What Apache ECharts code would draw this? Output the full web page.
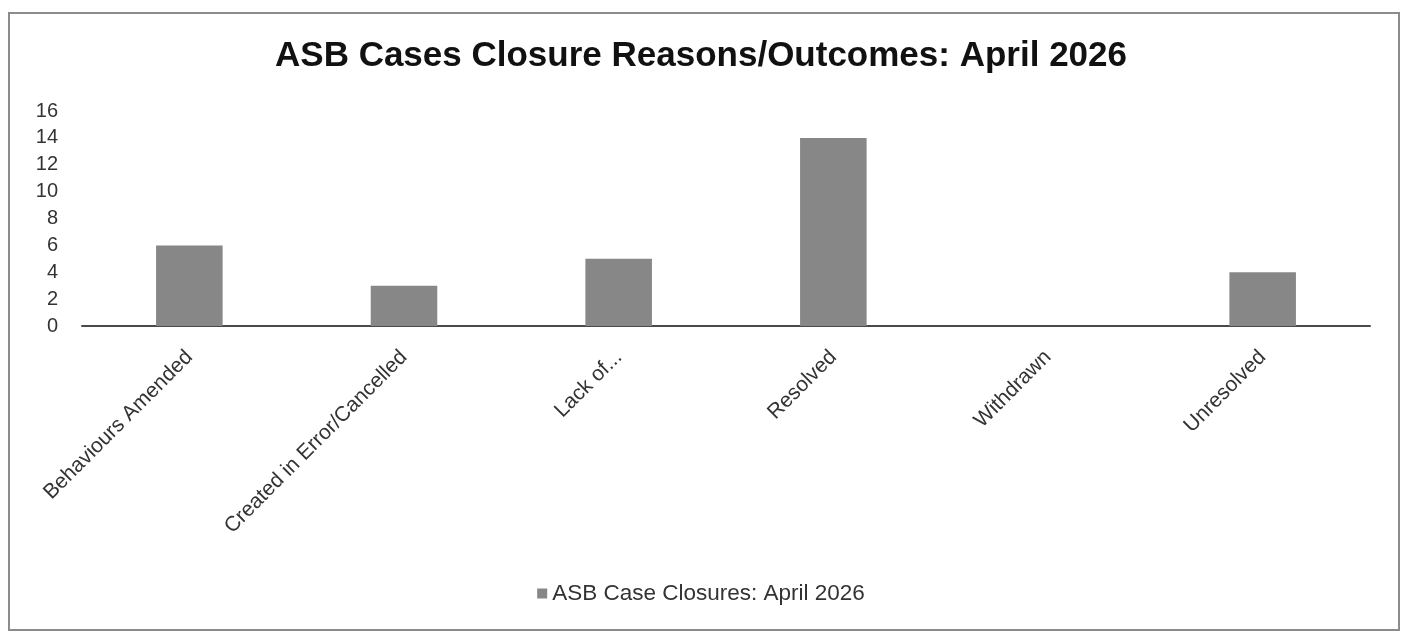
<!DOCTYPE html>
<html>
<head>
<meta charset="utf-8">
<script src="https://cdn.jsdelivr.net/npm/echarts@6/dist/echarts.min.js"></script>
<style>
html,body{margin:0;padding:0;background:#fff;}
#chart{width:1402px;height:632px;}
</style>
</head>
<body>
<div id="chart"></div>
<script>
const titleText = 'ASB Cases Closure Reasons/Outcomes: April 2026';
const seriesName = 'ASB Case Closures: April 2026';
const categories = ['Behaviours Amended', 'Created in Error/Cancelled', 'Lack of...', 'Resolved', 'Withdrawn', 'Unresolved'];
const closures = [6, 3, 5, 14, 0, 4];
const yTicks = { min: 0, max: 16, interval: 2 };

const chart = echarts.init(document.getElementById('chart'));
chart.setOption({
  backgroundColor: '#ffffff',
  animation: false,
  title: {
    text: titleText,
    left: 'center',
    top: 34,
    textStyle: { fontFamily: 'Liberation Sans, Arial, sans-serif', fontWeight: 'bold', fontSize: 35, color: '#111111' }
  },
  graphic: [{
    type: 'rect',
    shape: { x: 9, y: 13, width: 1390, height: 617 },
    style: { fill: 'none', stroke: '#8c8c8c', lineWidth: 2 },
    silent: true
  }],
  legend: {
    data: [seriesName],
    bottom: 22,
    left: 'center',
    itemWidth: 10,
    itemHeight: 10,
    itemGap: 6,
    icon: 'rect',
    textStyle: { fontFamily: 'Liberation Sans, Arial, sans-serif', fontSize: 22.5, color: '#333333' }
  },
  grid: { left: 82, right: 32, top: 111, bottom: 306 },
  xAxis: {
    type: 'category',
    data: categories,
    axisLine: { show: true, lineStyle: { color: '#4a4a4a', width: 2 } },
    axisTick: { show: false },
    axisLabel: {
      rotate: 45,
      interval: 0,
      margin: 28,
      fontFamily: 'Liberation Sans, Arial, sans-serif',
      fontSize: 21,
      color: '#333333'
    }
  },
  yAxis: {
    type: 'value',
    min: yTicks.min,
    max: yTicks.max,
    interval: yTicks.interval,
    axisLine: { show: false },
    axisTick: { show: false },
    splitLine: { show: false },
    axisLabel: {
      margin: 24,
      fontFamily: 'Liberation Sans, Arial, sans-serif',
      fontSize: 20,
      color: '#333333'
    }
  },
  series: [{
    name: seriesName,
    type: 'bar',
    data: closures,
    barWidth: '31%',
    itemStyle: { color: '#878787' }
  }]
});
</script>
</body>
</html>
